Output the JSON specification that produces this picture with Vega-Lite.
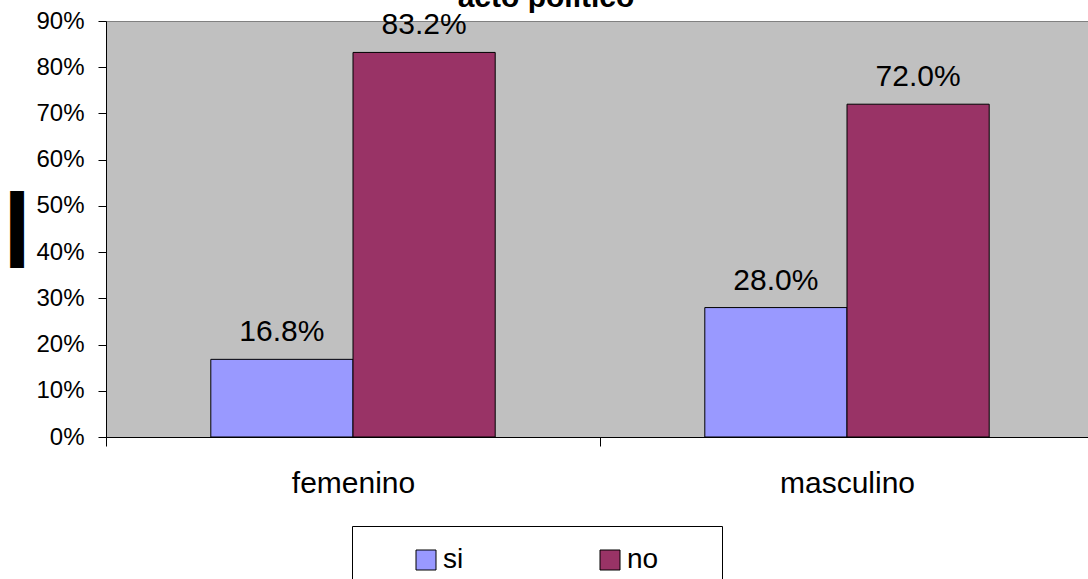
{
  "$schema": "https://vega.github.io/schema/vega-lite/v6.json",
  "width": 988,
  "height": 416,
  "autosize": {"type": "none"},
  "padding": {"left": 106, "top": 21, "right": 0, "bottom": 142},
  "background": "white",
  "title": {
    "text": "acto político",
    "font": "Liberation Sans",
    "fontSize": 30,
    "fontWeight": "bold",
    "color": "black",
    "anchor": "middle",
    "frame": "group",
    "dx": -54,
    "baseline": "alphabetic",
    "offset": -27.5
  },
  "data": {
    "values": [
      {"sexo": "femenino", "respuesta": "si", "valor": 0.168},
      {"sexo": "femenino", "respuesta": "no", "valor": 0.832},
      {"sexo": "masculino", "respuesta": "si", "valor": 0.28},
      {"sexo": "masculino", "respuesta": "no", "valor": 0.72}
    ]
  },
  "encoding": {
    "x": {
      "field": "sexo",
      "type": "nominal",
      "sort": ["femenino", "masculino"],
      "scale": {"paddingInner": 0, "paddingOuter": 0},
      "axis": {
        "title": null,
        "labelAngle": 0,
        "tickBand": "extent",
        "domainColor": "black",
        "tickColor": "black",
        "tickSize": 9,
        "labelFont": "Liberation Sans",
        "labelFontSize": 30,
        "labelColor": "black",
        "labelPadding": 22
      }
    },
    "xOffset": {
      "field": "respuesta",
      "type": "nominal",
      "sort": ["si", "no"],
      "scale": {"paddingInner": 0, "paddingOuter": 0.737}
    },
    "y": {
      "field": "valor",
      "type": "quantitative",
      "scale": {"domain": [0, 0.9], "nice": false},
      "axis": {
        "values": [0, 0.1, 0.2, 0.3, 0.4, 0.5, 0.6, 0.7, 0.8, 0.9],
        "format": ".0%",
        "grid": false,
        "domainColor": "black",
        "tickColor": "black",
        "tickSize": 8,
        "labelFont": "Liberation Sans",
        "labelFontSize": 24,
        "labelColor": "black",
        "labelPadding": 14,
        "title": "███████████",
        "titleFont": "DejaVu Sans Mono",
        "titleFontSize": 11.627,
        "titleFontWeight": "normal",
        "titleColor": "black",
        "titlePadding": 13
      }
    }
  },
  "layer": [
    {
      "mark": {"type": "bar", "stroke": "black", "strokeWidth": 1},
      "encoding": {
        "color": {
          "field": "respuesta",
          "type": "nominal",
          "sort": ["si", "no"],
          "scale": {"domain": ["si", "no"], "range": ["#9999FF", "#993366"]},
          "legend": {
            "title": "\u2003",
            "titleOrient": "right",
            "titleFontSize": 1,
            "titlePadding": 44,
            "orient": "none",
            "legendX": 246,
            "legendY": 505,
            "direction": "horizontal",
            "symbolType": "square",
            "symbolSize": 400,
            "symbolStrokeColor": "black",
            "symbolStrokeWidth": 1,
            "symbolOpacity": 1,
            "labelFont": "Liberation Sans",
            "labelFontSize": 28,
            "labelColor": "black",
            "labelOffset": 3,
            "columnPadding": 92,
            "padding": 20,
            "symbolOffset": 40,
            "fillColor": "white",
            "strokeColor": "black"
          }
        }
      }
    },
    {
      "mark": {
        "type": "text",
        "font": "Liberation Sans",
        "fontSize": 30,
        "baseline": "alphabetic",
        "align": "center",
        "dy": -18,
        "color": "black"
      },
      "encoding": {
        "text": {"field": "valor", "type": "quantitative", "format": ".1%"}
      }
    }
  ],
  "config": {
    "font": "Liberation Sans",
    "view": {"fill": "#C0C0C0", "stroke": "#808080", "strokeWidth": 1}
  }
}
